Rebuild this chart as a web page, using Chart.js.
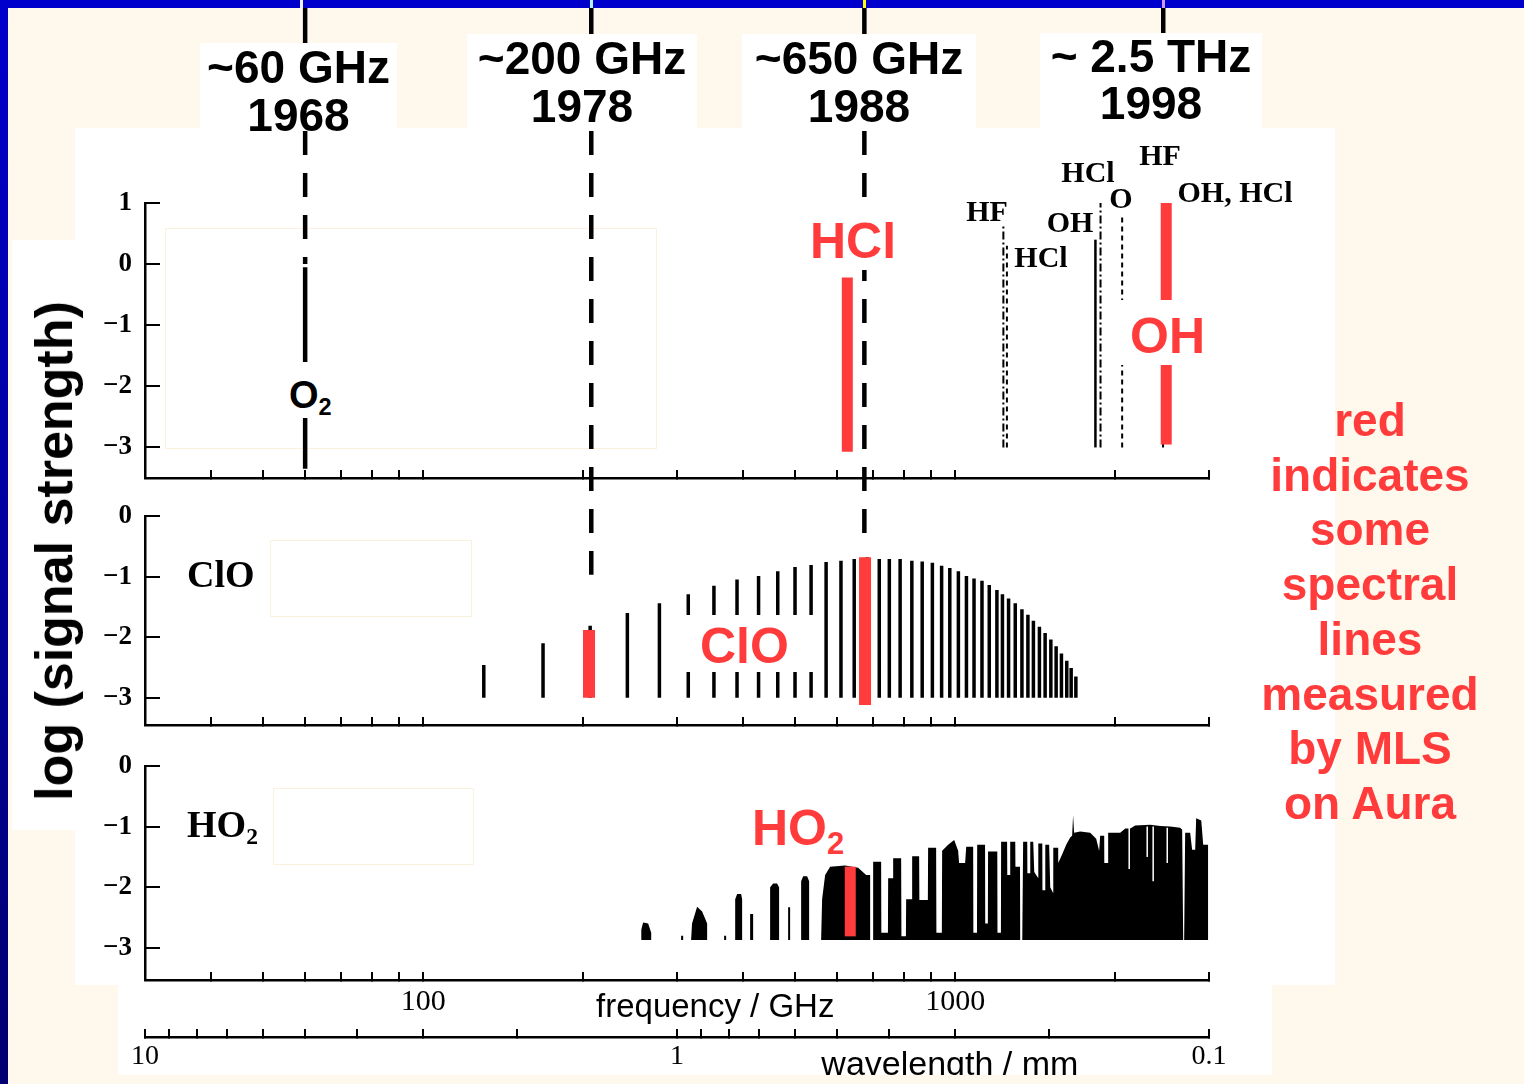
<!DOCTYPE html>
<html lang="en">
<head>
<meta charset="UTF-8">
<title>Spectral lines measured by MLS</title>
<script src="https://cdn.jsdelivr.net/npm/chart.js"></script>
<style>
  html,body{margin:0;padding:0;}
  body{width:1524px;height:1084px;position:relative;overflow:hidden;background:#fef9ec;
       font-family:"Liberation Sans",Arial,sans-serif;color:#000;}
  .box{position:absolute;background:#fff;}
  .faint{position:absolute;border:1.5px solid #fbf2dd;}
  canvas{position:absolute;left:0;top:0;}
  .era{position:absolute;background:#fff;text-align:center;font-weight:bold;font-size:46px;line-height:48px;white-space:nowrap;}
  .red{position:absolute;background:#fff;color:#ff3b3b;font-weight:bold;font-size:50px;white-space:nowrap;overflow:hidden;box-sizing:border-box;}
  .sub{font-size:.62em;vertical-align:-.28em;line-height:0;}
  .mol{position:absolute;font-family:"Liberation Serif",serif;font-weight:bold;font-size:30px;transform:translate(-50%,-50%);white-space:nowrap;}
  .panel{position:absolute;font-family:"Liberation Serif",serif;font-weight:bold;font-size:38px;line-height:40px;white-space:nowrap;}
</style>
</head>
<body>
  <!-- slide frame -->
  <div class="box" style="left:0;top:0;width:1524px;height:8px;background:#0000cc"></div>
  <div class="box" style="left:0;top:0;width:8px;height:1084px;background:linear-gradient(#0000cc,#000070)"></div>
  <div class="box" style="left:300px;top:0;width:3px;height:8px;background:#eef0ff"></div>
  <div class="box" style="left:590px;top:0;width:3px;height:8px;background:#aef4ff"></div>
  <div class="box" style="left:863px;top:0;width:3px;height:8px;background:#ffff00"></div>
  <div class="box" style="left:1162px;top:0;width:3px;height:8px;background:#cc99ff"></div>

  <!-- white figure background -->
  <div class="box" style="left:75px;top:128px;width:1260px;height:857px"></div>
  <div class="box" style="left:118px;top:985px;width:1154px;height:90px"></div>
  <div class="box" style="left:12px;top:240px;width:63px;height:590px"></div>
  <div class="faint" style="left:165px;top:228px;width:490px;height:219px"></div>
  <div class="faint" style="left:270px;top:540px;width:200px;height:75px"></div>
  <div class="faint" style="left:273px;top:788px;width:199px;height:75px"></div>

  <canvas id="c1" width="1524" height="1084"></canvas>
  <canvas id="c2" width="1524" height="1084"></canvas>
  <canvas id="c3" width="1524" height="1084"></canvas>

  <!-- instrument generations -->
  <div class="era" style="left:200px;top:43px;width:197px;height:87px">~60 GHz<br>1968</div>
  <div class="era" style="left:467px;top:34px;width:230px;height:96px">~200 GHz<br>1978</div>
  <div class="era" style="left:742px;top:34px;width:234px;height:96px">~650 GHz<br>1988</div>
  <div class="era" style="left:1040px;top:33px;width:222px;height:97px;line-height:47px">~ 2.5 THz<br>1998</div>

  <!-- red MLS labels -->
  <div class="red" style="left:808px;top:213px;width:118px;height:57px;line-height:57px;padding-left:2px">HCl</div>
  <div class="red" style="left:1108px;top:300px;width:122px;height:65px;line-height:72px;padding-left:22px">OH</div>
  <div class="red" style="left:675px;top:615px;width:140px;height:57px;line-height:62px;padding-left:25px">ClO</div>
  <div class="red" style="left:730px;top:793px;width:141px;height:64px;line-height:70px;padding-left:22px">HO<span class="sub">2</span></div>
  <div class="red" style="left:285px;top:362px;width:56px;height:56px;line-height:66px;padding-left:4px;color:#000;font-size:38px">O<span class="sub">2</span></div>

  <!-- line identifications, top panel -->
  <div class="mol" style="left:987px;top:211px">HF</div>
  <div class="mol" style="left:1041px;top:257px">HCl</div>
  <div class="mol" style="left:1070px;top:222px">OH</div>
  <div class="mol" style="left:1088px;top:172px">HCl</div>
  <div class="mol" style="left:1121px;top:198px">O</div>
  <div class="mol" style="left:1160px;top:155px">HF</div>
  <div class="mol" style="left:1235px;top:192px">OH, HCl</div>

  <div class="panel" style="left:187px;top:554px">ClO</div>
  <div class="panel" style="left:187px;top:804px">HO<span class="sub">2</span></div>

  <div style="position:absolute;left:54px;top:551px;transform:translate(-50%,-50%) rotate(-90deg);font-weight:bold;font-size:52px;line-height:52px;white-space:nowrap">log (signal strength)</div>

  <div style="position:absolute;left:1250px;top:393px;width:240px;text-align:center;color:#ff3b3b;font-weight:bold;font-size:46px;line-height:54.7px">red<br>indicates<br>some<br>spectral<br>lines<br>measured<br>by MLS<br>on Aura</div>

  <div class="box" style="left:8px;top:1075px;width:1516px;height:9px;background:#fef9ec"></div>

<script>
// ---- axes ----
const freqMin = 30, freqMax = 3000;              // GHz
const freqTicks = [40,50,60,70,80,90,100,200,300,400,500,600,700,800,900,1000,2000,3000];
const freqLabels = [100, 1000];
const waveMin = 0.1, waveMax = 10;               // mm
const waveTicks = [0.1,0.2,0.3,0.4,0.5,0.6,0.7,0.8,0.9,1,2,3,4,5,6,7,8,9,10];
const waveLabels = [0.1, 1, 10];
const topLevelTicks = [1, 0, -1, -2, -3];
const lowLevelTicks = [0, -1, -2, -3];

// ---- guide lines of the four instrument generations ----
const markerFreq  = [60, 207, 675, 2461];
const markerPanel = [1, 2, 2, 0];                // panel where the dashed guide stops
const markerStop  = [0, -0.97, -0.31, null];     // log strength where it stops

// ---- top panel: O2, HF, HCl, OH, O ----
const topLineFreq  = [60, 1232, 1251, 1835, 1876, 2060, 2459];
const topLineTop   = [-0.05, 0.63, 0.30, 0.40, 1.10, 0.83, 1.40];
const topLineBase  = [-3.35, -3, -3, -3, -3, -3, -3];
const topLineStyle = ['thick', 'dashdot', 'dashed', 'solid', 'dashdot', 'dashed', 'dashed'];
const topRedFreq = [627, 2493];
const topRedHi   = [-0.22, 1.0];
const topRedLo   = [-3.07, -2.95];

// ---- middle panel: ClO ----
const cloFreq = [130,168,206,242,278,315,352,389,427,464,500,536,572,610,646,683,720,752,788,829,
                 867,906,943,977,1014,1050,1085,1123,1159,1198,1227,1260,1297,1335,1370,1403,1440,
                 1476,1513,1548,1584,1621,1652,1686];
const cloTop  = [-2.46,-2.10,-1.81,-1.60,-1.44,-1.29,-1.15,-1.05,-0.99,-0.91,-0.84,-0.81,-0.76,-0.74,
                 -0.71,-0.68,-0.71,-0.71,-0.71,-0.74,-0.75,-0.77,-0.82,-0.86,-0.91,-0.99,-1.03,-1.07,
                 -1.14,-1.22,-1.29,-1.36,-1.44,-1.54,-1.63,-1.73,-1.83,-1.93,-2.04,-2.15,-2.27,-2.39,
                 -2.51,-2.65];
const cloBase = -3;
const cloRedFreq = [205, 677];
const cloRedHi   = [-1.88, -0.68];
const cloRedLo   = [-3.0, -3.12];

// ---- bottom panel: HO2 outline (frequency, log strength) ----
const hoBase = -2.87;
const hoFreq = [256.9,256.9,259.1,264.8,268.3,268.3, 305.4,305.4,308.1,308.1,
  318.9,320.2,327.3,334.5,341.8,341.8, 367.9,367.9,371.1,371.1,
  385.9,385.9,389.2,396.0,397.7,397.7, 411.7,411.7,417.1,417.1,
  448.9,448.9,454.8,462.7,466.7,466.7, 485.3,485.3,489.5,489.5,
  513.4,513.4,517.9,526.9,531.5,531.5,
  559.8,562.2,569.6,582.1,621.1,657.1,680.2,692.1,692.1,
  701.2,701.2,725.8,726.5,747.5,748.2,764.6,764.6,791.5,792.5,808.0,808.8,830.1,830.1,855.6,856.5,
  888.5,889.5,920.9,922.0,944.0,945.1,970.1,995.7,1013,1017,1044,1049,1081,1082,1099,1100,1138,
  1139,1152,1153,1200,1201,1219,1220,1252,1253,1268,1269,1297,1298,1324,1325,1337,1342,1366,1367,
  1383,1384,1402,1408,1433,1433,1458,1459,1476,1477,1502,1509,1529,1529,1562,1562,1590,1617,1645,
  1659,1666,1673,1718,1794,1841,1865,1873,1906,1907,1938,1939,1982,2043,2088,2133,2180,2326,2429,
  2536,2648,2671,2683,2694,2706,2765,2789,2826,2838,2901,2926,2990,2990];
const hoLevel = [hoBase,-2.7,-2.58,-2.6,-2.75,hoBase, hoBase,-2.8,-2.8,hoBase,
  hoBase,-2.6,-2.32,-2.4,-2.6,hoBase, hoBase,-2.8,-2.8,hoBase,
  hoBase,-2.2,-2.11,-2.11,-2.2,hoBase, hoBase,-2.44,-2.44,hoBase,
  hoBase,-2.0,-1.94,-1.94,-2.0,hoBase, hoBase,-2.33,-2.33,hoBase,
  hoBase,-1.9,-1.82,-1.82,-1.9,hoBase,
  hoBase,-2.2,-1.8,-1.66,-1.64,-1.68,-1.8,-1.8,hoBase,
  hoBase,-1.58,-1.58,-2.75,-2.75,-1.85,-1.85,-1.52,-1.52,-2.81,-2.81,-2.2,-2.2,-1.49,-1.49,-2.21,
  -2.21,-1.35,-1.35,-2.75,-2.75,-1.4,-1.3,-1.22,-1.4,-1.6,-1.6,-1.33,-1.33,-2.75,-2.75,-1.3,-1.3,
  -2.6,-2.6,-1.41,-1.41,-2.75,-2.75,-1.25,-1.25,-1.8,-1.8,-1.25,-1.25,-1.66,-1.66,hoBase,hoBase,-1.25,-1.25,-1.77,
  -1.77,-1.25,-1.25,-1.75,-1.85,-1.28,-1.28,-2.05,-2.05,-1.3,-1.3,-2.0,-2.1,-1.35,-1.35,-1.6,-1.45,-1.3,-1.18,
  -1.15,-0.81,-1.1,-1.08,-1.1,-1.2,-1.4,-1.15,-1.15,-1.6,-1.6,-1.1,-1.1,-1.1,-1.03,-1.03,-0.98,-0.97,-0.99,
  -1.0,-1.02,-1.05,hoBase,hoBase,-1.1,-1.1,-1.38,-1.38,-0.86,-0.9,-1.3,-1.3,hoBase];
const hoSlitFreq = [2124, 2296, 2356, 2504];
const hoSlitHi   = [-1.0, -1.0, -1.0, -1.02];
const hoSlitLo   = [-1.7, -1.5, -1.9, -1.6];
const hoRedFreq = [635];
const hoRedHi   = [-1.66];
const hoRedLo   = [-2.81];

// axis title anchors
const freqTitleAt = 354;   // GHz
const waveTitleAt = 0.307; // mm

// ---- helpers ----
const black = '#000', red = '#ff3b3b';
const serif = '"Liberation Serif", "Times New Roman", serif';
const sans = '"Liberation Sans", Arial, sans-serif';

function segs(freqs, lo, hi) {
  const pts = [];
  freqs.forEach((f, i) => {
    pts.push({x: f, y: Array.isArray(lo) ? lo[i] : lo}, {x: f, y: hi[i]}, {x: f, y: null});
  });
  return pts;
}
function lineSet(data, color, width, dash, order) {
  return {type: 'line', data, borderColor: color, borderWidth: width, borderDash: dash || [],
          borderCapStyle: 'butt', pointRadius: 0, tension: 0, fill: false, spanGaps: false,
          order: order, xAxisID: 'x', yAxisID: 'y'};
}
function freqAxis(extra) {
  return Object.assign({
    type: 'logarithmic', position: 'bottom', min: freqMin, max: freqMax,
    afterBuildTicks: s => { s.ticks = freqTicks.map(v => ({value: v})); },
    afterFit: s => { s.height = 0; },
    border: {display: true, color: black, width: 2.5},
    grid: {drawOnChartArea: false, drawTicks: true, tickLength: -8, color: black, lineWidth: 2},
    ticks: {display: false, autoSkip: false, maxRotation: 0}
  }, extra || {});
}
function levelAxis(min, max, ticks) {
  return {
    type: 'linear', position: 'left', min, max,
    afterBuildTicks: s => { s.ticks = ticks.map(v => ({value: v})); },
    afterFit: s => { s.width = 70; },
    border: {display: true, color: black, width: 2.5},
    grid: {drawOnChartArea: false, drawTicks: true, tickLength: -15, color: black, lineWidth: 2},
    ticks: {color: black, padding: 28, font: {family: serif, size: 27, weight: 'bold'},
            callback: v => v < 0 ? '\u2212' + Math.abs(v) : String(v)}
  };
}
function baseOptions(top, bottom, scales) {
  return {
    responsive: false, animation: false, devicePixelRatio: 1, events: [],
    layout: {padding: {left: 75, right: 315, top: top, bottom: bottom}},
    plugins: {legend: {display: false}, tooltip: {enabled: false}},
    scales
  };
}
function guidePlugin(panel) {
  return {
    id: 'guides' + panel,
    afterDatasetsDraw(chart) {
      const {ctx, scales} = chart;
      ctx.save();
      ctx.strokeStyle = black;
      ctx.lineWidth = 4.5;
      markerFreq.forEach((f, i) => {
        const px = scales.x.getPixelForValue(f);
        if (panel === 1) {
          ctx.setLineDash([]);
          ctx.beginPath(); ctx.moveTo(px, 8); ctx.lineTo(px, 45); ctx.stroke();
        }
        if (markerPanel[i] === panel) {
          ctx.setLineDash([24, 18]);
          ctx.beginPath(); ctx.moveTo(px, 131);
          ctx.lineTo(px, scales.y.getPixelForValue(markerStop[i])); ctx.stroke();
        }
      });
      ctx.restore();
    }
  };
}
const axisTitles = {
  id: 'axisTitles',
  afterDraw(chart) {
    const {ctx, scales} = chart;
    ctx.save();
    ctx.fillStyle = black;
    ctx.textAlign = 'center';
    ctx.textBaseline = 'alphabetic';
    ctx.font = '33px ' + sans;
    ctx.fillText('frequency / GHz', scales.x.getPixelForValue(freqTitleAt), scales.x.top + 37);
    ctx.font = '34px ' + sans;
    ctx.fillText('wavelength / mm', scales.xw.getPixelForValue(waveTitleAt), scales.xw.top + 38);
    ctx.restore();
  }
};

// ---- top panel ----
const styleDash = {thick: [], solid: [], dashdot: [8, 3, 2, 3], dashed: [5, 4]};
const styleWidth = {thick: 4.5, solid: 2.5, dashdot: 2, dashed: 2};
const topSets = [lineSet(segs(topRedFreq, topRedLo, topRedHi), red, 11, null, 0)];
Object.keys(styleDash).forEach(st => {
  const idx = topLineStyle.map((s, i) => s === st ? i : -1).filter(i => i >= 0);
  if (!idx.length) return;
  topSets.push(lineSet(segs(idx.map(i => topLineFreq[i]), idx.map(i => topLineBase[i]),
                            idx.map(i => topLineTop[i])), black, styleWidth[st], styleDash[st], 2));
});
new Chart(document.getElementById('c1'), {
  type: 'line',
  data: {datasets: topSets},
  options: baseOptions(203, 606, {x: freqAxis(), y: levelAxis(-3.5, 1, topLevelTicks)}),
  plugins: [guidePlugin(1)]
});

// ---- middle panel ----
new Chart(document.getElementById('c2'), {
  type: 'line',
  data: {datasets: [
    lineSet(segs(cloRedFreq, cloRedLo, cloRedHi), red, 12, null, 0),
    lineSet(segs(cloFreq, cloBase, cloTop), black, 3.5, null, 2)
  ]},
  options: baseOptions(516, 359, {x: freqAxis(), y: levelAxis(-3.45, 0, lowLevelTicks)}),
  plugins: [guidePlugin(2)]
});

// ---- bottom panel ----
new Chart(document.getElementById('c3'), {
  type: 'line',
  data: {datasets: [
    lineSet(segs(hoRedFreq, hoRedLo, hoRedHi), red, 11, null, 0),
    lineSet(segs(hoSlitFreq, hoSlitLo, hoSlitHi), '#fff', 1.5, null, 1),
    Object.assign(lineSet(hoFreq.map((f, i) => ({x: f, y: hoLevel[i]})), 'rgba(0,0,0,0)', 0, null, 2),
                  {fill: {value: hoBase}, backgroundColor: black})
  ]},
  options: baseOptions(766, 17, {
    x: freqAxis({
      weight: 0,
      afterFit: s => { s.height = 57; },
      ticks: {display: true, autoSkip: false, maxRotation: 0, padding: 12, color: black,
              font: {family: serif, size: 30},
              callback: v => freqLabels.includes(v) ? String(v) : ''}
    }),
    xw: {
      type: 'logarithmic', position: 'bottom', reverse: true, min: waveMin, max: waveMax, weight: 1,
      afterBuildTicks: s => { s.ticks = waveTicks.map(v => ({value: v})); },
      afterFit: s => { s.height = 30; },
      border: {display: true, color: black, width: 2.5},
      grid: {drawOnChartArea: false, drawTicks: true, tickLength: -8, color: black, lineWidth: 2},
      ticks: {autoSkip: false, maxRotation: 0, padding: 11, color: black,
              font: {family: serif, size: 28},
              callback: v => waveLabels.includes(v) ? String(v) : ''}
    },
    y: levelAxis(-3.53, 0, lowLevelTicks)
  }),
  plugins: [axisTitles]
});
</script>
</body>
</html>
